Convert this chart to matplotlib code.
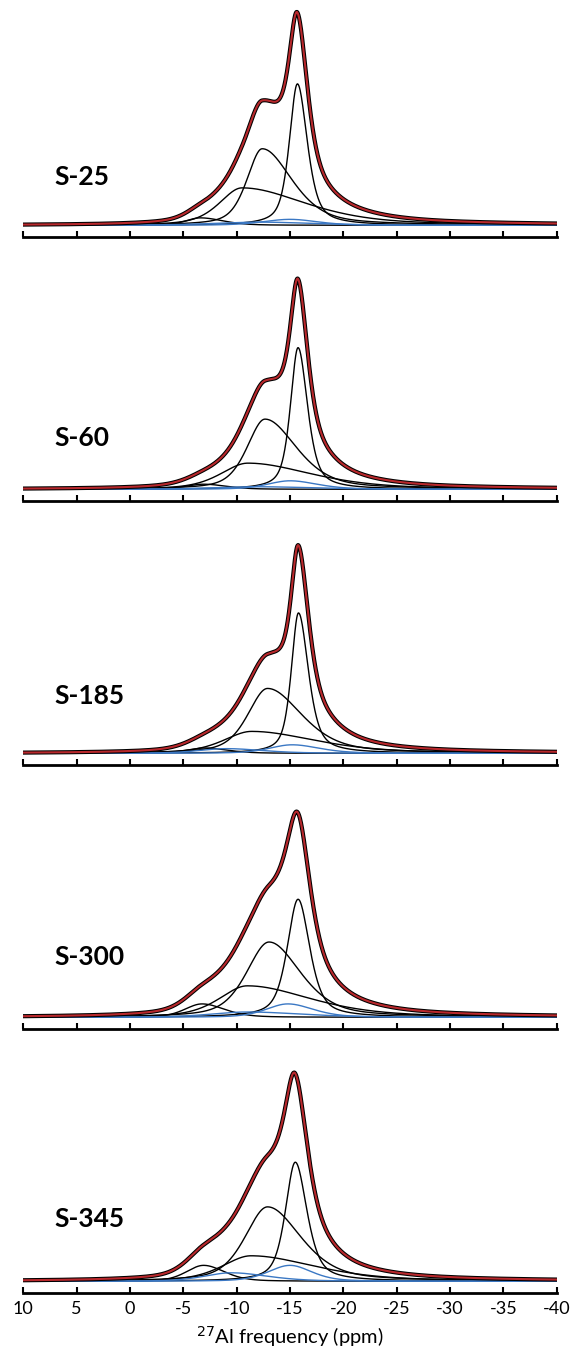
import numpy as np
import matplotlib
matplotlib.use("Agg")
import matplotlib.pyplot as plt

plt.rcParams["font.family"] = ["Lato", "DejaVu Sans"]

# ── data: fitted components ──────────────────────────────────────────────────
samples = ["S-25", "S-60", "S-185", "S-300", "S-345"]

# component roles (same column order in every table below)
roles = ["narrow", "medium", "broad", "small", "blue_a", "blue_b"]
colours = ["black", "black", "black", "black", "#3b78c4", "#3b78c4"]
lorentz_frac = [0.6, 0.5, 0.5, 0.35, 0.4, 0.4]

# peak centres (ppm), one row per sample
centres = [
    [-15.7, -12.4, -10.5, -6.6, -15.0, -12.0],
    [-15.76, -12.66, -11.05, -6.9, -15.0, -12.0],
    [-15.8, -12.9, -11.4, -7.0, -15.2, -9.0],
    [-15.76, -13.04, -11.0, -6.75, -14.8, -11.0],
    [-15.5, -12.9, -11.35, -6.9, -15.0, -9.5],
]
# peak heights (fraction of the largest signal)
heights = [
    [0.665, 0.36, 0.176, 0.035, 0.028, 0.015],
    [0.666, 0.33, 0.123, 0.024, 0.040, 0.012],
    [0.660, 0.305, 0.103, 0.025, 0.040, 0.022],
    [0.555, 0.354, 0.148, 0.063, 0.063, 0.025],
    [0.560, 0.350, 0.120, 0.075, 0.075, 0.040],
]
# half widths (ppm) on the high-ppm side
hw_left = [
    [0.9, 1.7, 2.5, 1.6, 3.0, 5.0],
    [0.85, 2.0, 3.0, 2.0, 2.5, 5.0],
    [0.8, 2.2, 3.1, 2.0, 2.5, 3.0],
    [1.2, 2.5, 3.1, 1.9, 2.4, 4.0],
    [1.1, 2.5, 3.2, 1.9, 2.4, 3.0],
]
# half widths (ppm) on the low-ppm side
hw_right = [
    [1.1, 3.3, 7.0, 2.5, 3.0, 6.0],
    [1.05, 3.5, 7.0, 2.5, 3.0, 6.0],
    [1.1, 3.8, 7.0, 2.5, 3.0, 4.0],
    [1.3, 3.5, 7.0, 2.5, 2.8, 6.0],
    [1.3, 3.7, 7.0, 2.3, 2.4, 4.0],
]

xticks = [10, 5, 0, -5, -10, -15, -20, -25, -30, -35, -40]


def peak(x, c, h, wl, wr, eta):
    w = np.where(x > c, wl, wr)
    d = (x - c) / w
    return h * ((1 - eta) * np.exp(-np.log(2) * d ** 2) + eta / (1 + d ** 2))


x = np.linspace(10, -40, 2000)

W, H = 576, 1354
fig = plt.figure(figsize=(W / 100, H / 100), dpi=100)

axis_y = [237, 501, 765, 1029, 1293]   # pixel row of each axis line
label_off = [60, 63, 69, 72, 74]
x0, x1 = 23.3, 556.6
ax_h = 235

for i, name in enumerate(samples):
    ax = fig.add_axes([x0 / W, 1 - axis_y[i] / H, (x1 - x0) / W, ax_h / H])
    comps = [peak(x, centres[i][k], heights[i][k], hw_left[i][k],
                  hw_right[i][k], lorentz_frac[k]) for k in range(len(roles))]
    total = np.sum(comps, axis=0)
    for k, comp in enumerate(comps):
        ax.plot(x, comp, color=colours[k], lw=1.0, zorder=2)
    ax.plot(x, total, color="black", lw=3.0, zorder=3)
    ax.plot(x, total, color="#b8282c", lw=1.5, zorder=4)

    ax.set_xlim(10, -40)
    ax.set_ylim(-0.055, 1.05)
    ax.set_yticks([])
    ax.set_xticks(xticks)
    ax.tick_params(axis="x", direction="in", length=4, width=1.5, pad=6,
                   labelsize=13)
    for s in ["top", "right", "left"]:
        ax.spines[s].set_visible(False)
    ax.spines["bottom"].set_linewidth(2.0)
    ax.patch.set_alpha(0)
    if i < len(samples) - 1:
        ax.set_xticklabels([])
    else:
        ax.set_xticklabels([str(t) for t in xticks])
        ax.set_xlabel("$^{27}$Al frequency (ppm)", fontsize=14.5, labelpad=5)

    fig.text(54 / W, 1 - (axis_y[i] - label_off[i]) / H, name,
             fontsize=19, fontweight="bold", ha="left", va="center")

fig.savefig("out.png", dpi=100)
